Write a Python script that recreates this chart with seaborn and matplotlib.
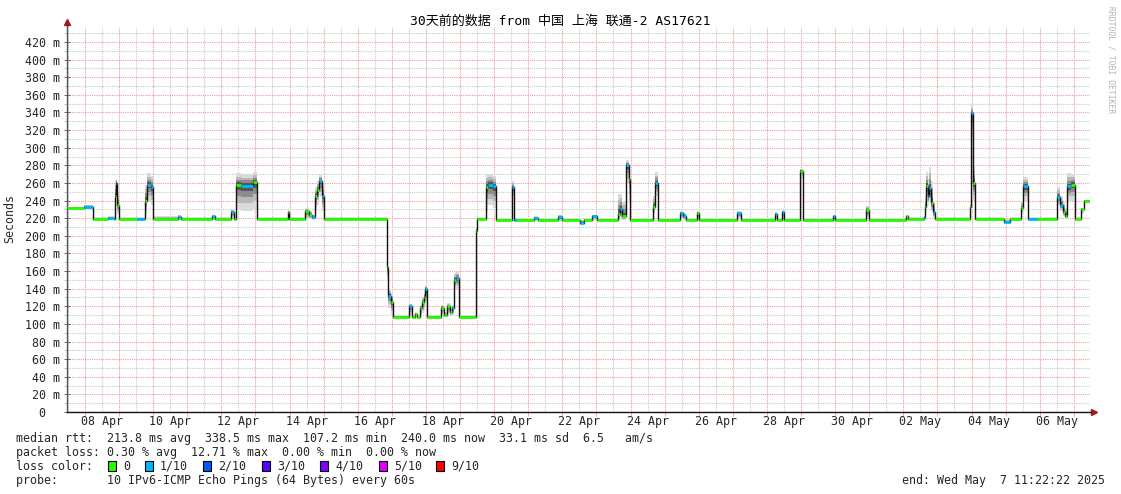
import numpy as np
import matplotlib
matplotlib.use("Agg")
import matplotlib.pyplot as plt
import matplotlib.dates as mdates
from matplotlib.patches import Rectangle
from matplotlib.ticker import FuncFormatter, MultipleLocator, FixedLocator
import seaborn as sns
from datetime import datetime, timedelta

sns.set_theme(style="white")
plt.rcParams['font.family'] = ['DejaVu Sans Mono', 'Noto Sans CJK SC']

# ---------------- data ----------------
title = "30天前的数据 from 中国 上海 联通-2 AS17621"
end_time = datetime(2025, 5, 7, 11, 22, 22)
span_days = 30

# step breakpoints: days since start of the window
t_days = [0.00, 0.50, 0.76, 1.20, 1.38, 1.41, 1.44, 1.47, 1.52, 2.05,
          2.25, 2.29, 2.35, 2.45, 2.52, 3.25, 3.35, 4.25, 4.35, 4.82,
          4.90, 4.96, 5.10, 5.45, 5.57, 6.48, 6.51, 6.98, 7.10, 7.18,
          7.27, 7.33, 7.40, 7.48, 7.55, 9.38, 9.41, 9.50, 9.56, 10.03,
          10.12, 10.21, 10.26, 10.35, 10.41, 10.47, 10.50, 10.56, 10.97, 11.06,
          11.14, 11.23, 11.29, 11.35, 11.42, 11.50, 11.99, 12.02, 12.29, 12.36,
          12.50, 12.58, 13.05, 13.11, 13.17, 13.70, 13.80, 14.40, 14.52, 15.05,
          15.15, 15.40, 15.54, 16.16, 16.22, 16.28, 16.39, 16.48, 16.51, 17.18,
          17.24, 17.33, 17.98, 18.07, 18.15, 18.48, 18.53, 19.65, 19.77, 20.76,
          20.82, 20.97, 21.03, 21.50, 21.58, 22.46, 22.52, 23.43, 23.52, 24.60,
          24.66, 25.13, 25.16, 25.19, 25.25, 25.28, 25.34, 25.40, 25.45, 26.48,
          26.51, 26.57, 26.63, 27.48, 27.65, 27.98, 28.04, 28.18, 28.45, 29.03,
          29.12, 29.21, 29.27, 29.33, 29.45, 29.57, 29.74, 29.82, 30.00]

median_ms = [231, 233, 219, 220, 219, 245, 260, 235, 219, 219,
             219, 240, 258, 255, 219, 221, 219, 222, 219, 227,
             219, 258, 257, 261, 219, 227, 219, 228, 224, 221,
             245, 252, 262, 245, 219, 165, 132, 125, 108, 120,
             108, 111, 108, 118, 125, 130, 140, 108, 118, 110,
             120, 113, 118, 150, 152, 108, 205, 219, 255, 258,
             256, 218, 255, 218, 218, 220, 218, 221, 218, 215,
             218, 222, 218, 225, 230, 222, 280, 265, 218, 233,
             260, 218, 226, 223, 218, 226, 218, 226, 218, 225,
             218, 227, 218, 274, 218, 222, 218, 229, 218, 222,
             219, 221, 233, 257, 245, 254, 237, 227, 219, 233,
             339, 260, 219, 216, 219, 231, 256, 219, 219, 244,
             235, 227, 222, 256, 258, 219, 230, 240, 240]

loss_tenths = [0, 1, 0, 1, 0, 0, 1, 0, 0, 1,
               0, 0, 1, 1, 0, 1, 0, 1, 0, 1,
               0, 0, 1, 0, 0, 0, 0, 0, 0, 1,
               0, 0, 1, 1, 0, 0, 1, 0, 0, 1,
               0, 0, 0, 0, 0, 0, 1, 0, 0, 0,
               0, 0, 1, 0, 1, 0, 0, 0, 0, 1,
               1, 0, 1, 1, 0, 1, 0, 1, 0, 1,
               0, 1, 0, 0, 1, 0, 1, 0, 0, 0,
               1, 0, 1, 1, 0, 0, 0, 1, 0, 1,
               0, 1, 0, 0, 0, 1, 0, 0, 0, 0,
               0, 1, 0, 0, 1, 1, 0, 1, 0, 0,
               1, 0, 0, 1, 0, 0, 1, 1, 0, 1,
               1, 0, 0, 1, 0, 0, 0, 0, 0]

smoke_low = [230, 231, 218, 218, 218, 230, 245, 225, 218, 218,
             218, 225, 240, 235, 218, 218, 218, 218, 218, 220,
             218, 229, 228, 230, 218, 219, 218, 219, 219, 218,
             228, 235, 245, 228, 218, 150, 118, 110, 107, 110,
             107, 108, 107, 110, 112, 115, 120, 107, 110, 108,
             111, 109, 110, 140, 140, 107, 200, 218, 228, 235,
             232, 217, 245, 217, 217, 217, 217, 217, 217, 214,
             217, 218, 217, 218, 220, 218, 260, 240, 217, 225,
             245, 217, 219, 218, 217, 219, 217, 219, 217, 219,
             217, 220, 217, 266, 217, 218, 217, 219, 217, 218,
             218, 218, 225, 240, 235, 238, 228, 220, 218, 222,
             300, 240, 218, 215, 218, 225, 240, 218, 218, 235,
             228, 222, 219, 240, 240, 218, 225, 239, 239]

smoke_high = [233, 235, 221, 222, 221, 262, 265, 250, 221, 221,
              221, 258, 271, 268, 222, 224, 221, 224, 221, 230,
              221, 271, 270, 272, 221, 229, 221, 232, 228, 224,
              255, 262, 269, 260, 221, 170, 140, 135, 110, 123,
              110, 113, 110, 122, 130, 135, 143, 110, 122, 113,
              124, 116, 121, 158, 159, 110, 210, 221, 270, 270,
              268, 220, 262, 220, 220, 222, 220, 224, 220, 218,
              220, 224, 220, 248, 248, 240, 286, 280, 220, 245,
              272, 220, 228, 226, 220, 228, 220, 228, 220, 227,
              220, 229, 220, 276, 220, 224, 220, 234, 220, 224,
              221, 223, 245, 272, 265, 278, 262, 240, 221, 236,
              348, 280, 221, 219, 221, 240, 267, 221, 221, 255,
              245, 238, 232, 271, 270, 221, 232, 241, 241]

y_tick_values = list(range(0, 421, 20))
loss_colors = ["#26ff00", "#00b8ff", "#0059ff", "#5e00ff", "#7e00ff", "#dd00ff", "#ff0000"]
loss_labels = ["0", "1/10", "2/10", "3/10", "4/10", "5/10", "9/10"]

line_rtt = "median rtt:  213.8 ms avg  338.5 ms max  107.2 ms min  240.0 ms now  33.1 ms sd  6.5   am/s"
line_loss = "packet loss: 0.30 % avg  12.71 % max  0.00 % min  0.00 % now"
line_probe = "probe:       10 IPv6-ICMP Echo Pings (64 Bytes) every 60s"
line_end = "end: Wed May  7 11:22:22 2025"

# ---------------- figure ----------------
W, H = 1121, 494
fig = plt.figure(figsize=(W / 100, H / 100), dpi=100)
fig.patch.set_facecolor("white")
ax = fig.add_axes([67 / W, 82 / H, 1023 / W, 385 / H])
ax.set_facecolor("white")

start_time = end_time - timedelta(days=span_days)
x = np.array([mdates.date2num(start_time + timedelta(days=d)) for d in t_days])
med = np.array(median_ms, dtype=float)
lo = np.array(smoke_low, dtype=float)
hi = np.array(smoke_high, dtype=float)

# smoke layers (lighter outside, darker towards the median)
shades = [(1.0, "#dadada"), (0.7, "#b8b8b8"), (0.45, "#8c8c8c"), (0.22, "#555555")]
for frac, col in shades:
    ax.fill_between(x, med - frac * (med - lo), med + frac * (hi - med), step="post",
                    color=col, lw=0, zorder=2)

# median line
sns.lineplot(x=x, y=med, drawstyle="steps-post", color="#111111", lw=1.0, ax=ax, zorder=3,
             estimator=None, sort=False)
ax.hlines(med[:-1], x[:-1], x[1:], colors=[loss_colors[l] for l in loss_tenths[:-1]],
          lw=2.0, zorder=4)

# axes limits
ax.set_xlim(mdates.date2num(start_time), mdates.date2num(end_time))
ax.set_ylim(0, 437)

# y grid / ticks
ax.yaxis.set_major_locator(FixedLocator(y_tick_values))
ax.yaxis.set_minor_locator(MultipleLocator(10))
ax.yaxis.set_major_formatter(FuncFormatter(lambda v, p: "0  " if v == 0 else f"{int(v)} m"))
ax.grid(which="major", axis="y", color="#f29a9a", ls=(0, (1, 1)), lw=0.8, zorder=1)
ax.grid(which="minor", axis="y", color="#c8c8c8", ls=(0, (1, 1)), lw=0.8, zorder=1)

# x grid / ticks
ax.xaxis.set_major_locator(mdates.DayLocator())
ax.xaxis.set_minor_locator(mdates.HourLocator(byhour=[12]))
ax.xaxis.set_major_formatter(FuncFormatter(lambda v, p: ""))


def noon_fmt(v, p):
    d = mdates.num2date(v)
    return d.strftime("%d %b") if d.timetuple().tm_yday % 2 == 0 else ""


ax.xaxis.set_minor_formatter(FuncFormatter(noon_fmt))
ax.grid(which="major", axis="x", color="#f29a9a", ls=(0, (1, 1)), lw=0.8, zorder=1)
ax.grid(which="minor", axis="x", color="#c8c8c8", ls=(0, (1, 1)), lw=0.8, zorder=1)

ax.tick_params(axis="y", which="major", length=4, direction="inout", width=0.6,
               color="#555555", labelsize=8.4, pad=3, left=True)
ax.tick_params(axis="y", which="minor", length=2, direction="out", width=0.5,
               color="#aaaaaa", left=True)
ax.tick_params(axis="x", which="major", length=3, direction="out", width=0.6,
               color="#f29a9a", bottom=True)
ax.tick_params(axis="x", which="minor", length=0, labelsize=8.4, pad=2, bottom=True)

for s in ["top", "right"]:
    ax.spines[s].set_visible(False)
ax.spines["left"].set_color("#555555")
ax.spines["left"].set_linewidth(1.0)
ax.spines["bottom"].set_color("#111111")
ax.spines["bottom"].set_linewidth(1.0)

# axis arrows
ax.plot([0, 0], [1, 1.012], transform=ax.transAxes, color="#555555", lw=1.0, clip_on=False)
ax.plot([0], [1.012], transform=ax.transAxes, marker="^", ms=4, color="#9b1c1c", clip_on=False)
ax.plot([1, 1.004], [0, 0], transform=ax.transAxes, color="#111111", lw=1.0, clip_on=False)
ax.plot([1.004], [0], transform=ax.transAxes, marker=">", ms=4, color="#9b1c1c", clip_on=False)

ax.set_xlabel("")
ax.set_ylabel("")

# ---------------- texts ----------------
def fy(ypx):
    return 1 - ypx / H


fig.text(560 / W, fy(21), title, ha="center", va="center", fontsize=9.4, color="black")
fig.text(10 / W, fy(218), "Seconds", rotation=90, ha="center", va="center", fontsize=8.4)
fig.text(1111 / W, fy(60), "RRDTOOL / TOBI OETIKER", rotation=270, ha="center", va="center",
         fontsize=5.8, color="#b4b4b4")

fig.text(16 / W, fy(438), line_rtt, ha="left", va="center", fontsize=8.4)
fig.text(16 / W, fy(452), line_loss, ha="left", va="center", fontsize=8.4)
fig.text(16 / W, fy(466), "loss color:", ha="left", va="center", fontsize=8.4)
fig.text(16 / W, fy(480), line_probe, ha="left", va="center", fontsize=8.4)
fig.text(1105 / W, fy(480), line_end, ha="right", va="center", fontsize=8.4)

box_left_px = [108, 145, 203, 262, 320, 379, 436]
for bx, c, lab in zip(box_left_px, loss_colors, loss_labels):
    fig.patches.append(Rectangle((bx / W, fy(471)), 8 / W, 10 / H, transform=fig.transFigure,
                                 facecolor=c, edgecolor="black", lw=0.8))
    fig.text((bx + 15) / W, fy(466), lab, ha="left", va="center", fontsize=8.4)

fig.savefig("out.png", dpi=100)
